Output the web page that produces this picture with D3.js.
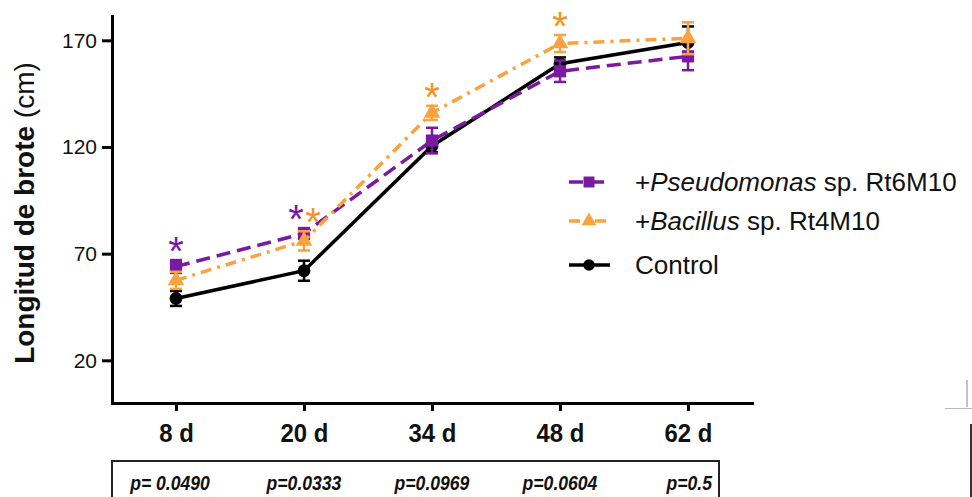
<!DOCTYPE html>
<html>
<head>
<meta charset="utf-8">
<script src="https://cdn.jsdelivr.net/npm/d3@7"></script>
<style>
  body { margin: 0; background: #fff; }
  svg { display: block; font-family: "Liberation Sans", Arial, sans-serif; }
</style>
</head>
<body>
<div id="chart"></div>
<script>
// data
var days = ['8 d', '20 d', '34 d', '48 d', '62 d'];
var controlMean = [49, 62, 120.5, 159, 169];
var controlErr = [3.5, 4.7, 3, 3, 7.5];
var pseudoMean = [64, 79.5, 123, 155.5, 162.5];
var pseudoErr = [3, 2.5, 6, 5, 6.5];
var bacilMean = [57.5, 76, 136, 168.5, 171];
var bacilErr = [4, 4.5, 3.3, 4, 7.5];
var pseudoStars = ['8 d', '20 d'];
var bacilStars = ['20 d', '34 d', '48 d'];
var pValues = ['p= 0.0490', 'p=0.0333', 'p=0.0969', 'p=0.0604', 'p=0.5'];
var yTicks = [20, 70, 120, 170];

(function(){
  var width = 972;
  var height = 497;
  var purple = '#7a1aa3';
  var orange = '#f9a23e';
  var orangeStar = '#f7931e';
  var starSize = 40;

  var svg = d3.select('#chart').append('svg')
    .attr('width', width)
    .attr('height', height);

  var x = d3.scalePoint().domain(days).range([112, 752]).padding(0.5);
  var y = d3.scaleLinear().domain([0, 181.4]).range([403, 16]);

  // axes
  var yAxis = svg.append('g')
    .attr('transform', 'translate(112,0)')
    .call(d3.axisLeft(y).tickValues(yTicks).tickSize(10).tickPadding(5).tickSizeOuter(0));
  yAxis.selectAll('text').attr('font-size', '21px').attr('fill', '#111');

  var xAxis = svg.append('g')
    .attr('transform', 'translate(0,403)')
    .call(d3.axisBottom(x).tickSize(8).tickPadding(13).tickSizeOuter(0));
  xAxis.selectAll('text')
    .attr('font-size', '26px')
    .attr('font-weight', 'bold')
    .attr('transform', 'scale(0.92,1)') // text sits at x=0, so this only narrows glyphs
    .attr('fill', '#111');

  svg.selectAll('.domain').attr('stroke', '#000').attr('stroke-width', 3).attr('stroke-linecap', 'square');
  svg.selectAll('.tick line').attr('stroke', '#000').attr('stroke-width', 3);

  // y label
  var ylab = svg.append('text')
    .attr('transform', 'translate(34,213) rotate(-90)')
    .attr('text-anchor', 'middle')
    .attr('font-size', '28px')
    .attr('fill', '#111');
  ylab.append('tspan').attr('font-weight', 'bold').text('Longitud de brote');
  ylab.append('tspan').text(' (cm)');

  var series = [
    {name: 'control', mean: controlMean, err: controlErr, color: '#000', dash: null, shape: d3.symbolCircle, size: 130},
    {name: 'pseudo', mean: pseudoMean, err: pseudoErr, color: purple, dash: '14,7', shape: d3.symbolSquare, size: 150},
    {name: 'bacil', mean: bacilMean, err: bacilErr, color: orange, dash: '11,6,3,6', shape: d3.symbolTriangle, size: 120}
  ];

  var line = d3.line()
    .x(function(d, i){ return x(days[i]); })
    .y(function(d){ return y(d); });

  series.forEach(function(s){
    var g = svg.append('g').attr('class', s.name);

    g.append('path')
      .attr('d', line(s.mean))
      .attr('fill', 'none')
      .attr('stroke', s.color)
      .attr('stroke-width', 3.5)
      .attr('stroke-dasharray', s.dash);

    // error bars
    var eb = g.selectAll('.eb')
      .data(s.mean)
      .enter()
      .append('g')
      .attr('stroke', s.color)
      .attr('stroke-width', 2.5);
    eb.append('line')
      .attr('x1', function(d, i){ return x(days[i]); })
      .attr('x2', function(d, i){ return x(days[i]); })
      .attr('y1', function(d, i){ return y(d - s.err[i]); })
      .attr('y2', function(d, i){ return y(d + s.err[i]); });
    eb.append('line')
      .attr('x1', function(d, i){ return x(days[i]) - 6; })
      .attr('x2', function(d, i){ return x(days[i]) + 6; })
      .attr('y1', function(d, i){ return y(d + s.err[i]); })
      .attr('y2', function(d, i){ return y(d + s.err[i]); });
    eb.append('line')
      .attr('x1', function(d, i){ return x(days[i]) - 6; })
      .attr('x2', function(d, i){ return x(days[i]) + 6; })
      .attr('y1', function(d, i){ return y(d - s.err[i]); })
      .attr('y2', function(d, i){ return y(d - s.err[i]); });

    g.selectAll('.pt')
      .data(s.mean)
      .enter()
      .append('path')
      .attr('d', d3.symbol().type(s.shape).size(s.size))
      .attr('transform', function(d, i){ return 'translate(' + x(days[i]) + ',' + y(d) + ')'; })
      .attr('fill', s.color);
  });

  // significance stars, centred ~17px above the top whisker
  function stars(list, mean, err, color, dx){
    svg.selectAll(null)
      .data(list)
      .enter()
      .append('text')
      .attr('x', function(d){ return x(d) + (d === '20 d' ? dx : 0); })
      .attr('y', function(d){
        var i = days.indexOf(d);
        return y(mean[i] + err[i]) - 17 + starSize * 0.55;
      })
      .attr('text-anchor', 'middle')
      .attr('font-size', starSize + 'px')
      .attr('fill', color)
      .text('*');
  }
  stars(pseudoStars, pseudoMean, pseudoErr, purple, -8);
  stars(bacilStars, bacilMean, bacilErr, orangeStar, 9);

  // legend
  var legend = [
    {s: series[1], label: ['+', 'Pseudomonas', ' sp. Rt6M10']},
    {s: series[2], label: ['+', 'Bacillus', ' sp. Rt4M10']},
    {s: series[0], label: ['Control', '', '']}
  ];
  var ly = [182, 221, 265];
  legend.forEach(function(l, i){
    var g = svg.append('g').attr('transform', 'translate(0,' + ly[i] + ')');
    g.append('line')
      .attr('x1', 569).attr('x2', 610)
      .attr('stroke', l.s.color)
      .attr('stroke-width', 3.5)
      .attr('stroke-dasharray', l.s.dash);
    g.append('path')
      .attr('d', d3.symbol().type(l.s.shape).size(l.s.size * 0.8))
      .attr('transform', 'translate(589,0)')
      .attr('fill', l.s.color);
    var t = g.append('text')
      .attr('x', 635)
      .attr('dy', '0.35em')
      .attr('font-size', '26px')
      .attr('fill', '#111');
    t.append('tspan').text(l.label[0]);
    t.append('tspan').attr('font-style', 'italic').text(l.label[1]);
    t.append('tspan').text(l.label[2]);
  });

  // p value table
  svg.append('rect')
    .attr('x', 112).attr('y', 461)
    .attr('width', 607).attr('height', 60)
    .attr('fill', 'none')
    .attr('stroke', '#222')
    .attr('stroke-width', 2);
  svg.selectAll('.pv')
    .data(pValues)
    .enter()
    .append('text')
    .attr('transform', function(d, i){
      var px = i === pValues.length - 1 ? 712 : x(days[i]) - (i === 0 ? 6 : 0);
      return 'translate(' + px + ',490) scale(0.88,1)';
    })
    .attr('text-anchor', function(d, i){ return i === pValues.length - 1 ? 'end' : 'middle'; })
    .attr('font-size', '20px')
    .attr('font-weight', 'bold')
    .attr('font-style', 'italic')
    .attr('fill', '#111')
    .text(function(d){ return d; });

  // stray edge marks of the source image
  svg.append('line').attr('x1', 967).attr('x2', 967).attr('y1', 380).attr('y2', 407).attr('stroke', '#888').attr('stroke-width', 1);
  svg.append('line').attr('x1', 945).attr('x2', 972).attr('y1', 408.5).attr('y2', 408.5).attr('stroke', '#bbb').attr('stroke-width', 1);
  svg.append('line').attr('x1', 971).attr('x2', 971).attr('y1', 424).attr('y2', 497).attr('stroke', '#333').attr('stroke-width', 2);
})();
</script>
</body>
</html>
